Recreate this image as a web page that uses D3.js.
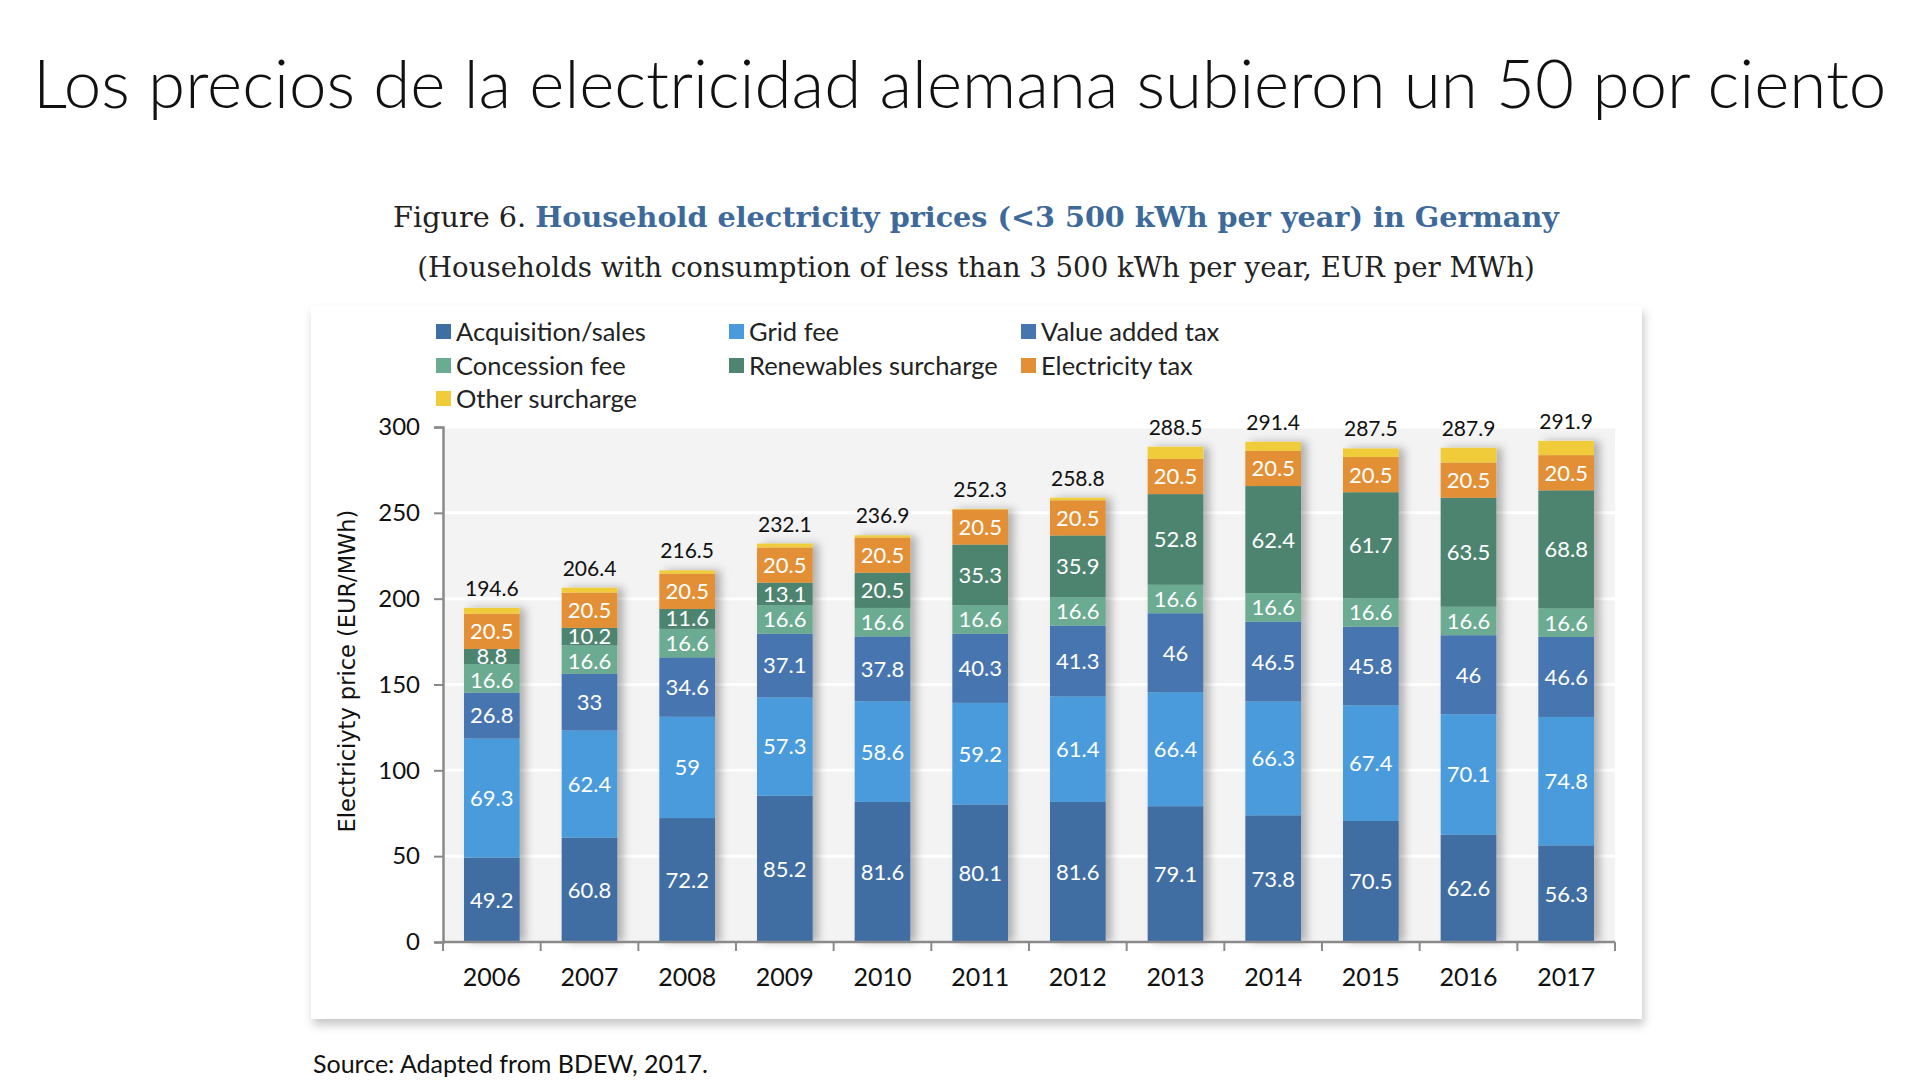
<!DOCTYPE html>
<html>
<head>
<meta charset="utf-8">
<title>Household electricity prices in Germany</title>
<script src="https://cdn.jsdelivr.net/npm/d3@7"></script>
<style>
  html, body { margin: 0; padding: 0; background: #fff; }
  svg { display: block; }
</style>
</head>
<body>
<svg id="chart" width="1920" height="1080"></svg>
<script>
// Data (EUR per MWh)
const years = ['2006', '2007', '2008', '2009', '2010', '2011', '2012', '2013', '2014', '2015', '2016', '2017'];
const seriesNames = ['Acquisition/sales', 'Grid fee', 'Value added tax', 'Concession fee',
                     'Renewables surcharge', 'Electricity tax', 'Other surcharge'];
const acquisition = [49.2, 60.8, 72.2, 85.2, 81.6, 80.1, 81.6, 79.1, 73.8, 70.5, 62.6, 56.3];
const gridFee     = [69.3, 62.4, 59, 57.3, 58.6, 59.2, 61.4, 66.4, 66.3, 67.4, 70.1, 74.8];
const vat         = [26.8, 33, 34.6, 37.1, 37.8, 40.3, 41.3, 46, 46.5, 45.8, 46, 46.6];
const concession  = [16.6, 16.6, 16.6, 16.6, 16.6, 16.6, 16.6, 16.6, 16.6, 16.6, 16.6, 16.6];
const renewables  = [8.8, 10.2, 11.6, 13.1, 20.5, 35.3, 35.9, 52.8, 62.4, 61.7, 63.5, 68.8];
const elecTax     = [20.5, 20.5, 20.5, 20.5, 20.5, 20.5, 20.5, 20.5, 20.5, 20.5, 20.5, 20.5];
const otherSurch  = [3.4, 2.9, 2.0, 2.3, 1.3, 0.3, 1.5, 7.1, 5.3, 5.0, 8.6, 8.3];
const totals      = [194.6, 206.4, 216.5, 232.1, 236.9, 252.3, 258.8, 288.5, 291.4, 287.5, 287.9, 291.9];
const yTicks = [0, 50, 100, 150, 200, 250, 300];

const colors = ['#3f6ea3', '#4a9bdc', '#4675b0', '#6aab92', '#4e8470', '#e38f35', '#f0cc3a'];
const labelled = [true, true, true, true, true, true, false];

const seriesValues = [acquisition, gridFee, vat, concession, renewables, elecTax, otherSurch];
const rows = years.map((y, i) => {
    const r = { year: y };
    seriesNames.forEach((s, k) => { r[s] = seriesValues[k][i]; });
    return r;
});

const svg = d3.select('#chart');
const sans = 'Lato, "Open Sans", sans-serif';
const serif = '"DejaVu Serif", "Liberation Serif", serif';

const defs = svg.append('defs');
const panelShadow = defs.append('filter').attr('id', 'panelShadow')
    .attr('x', '-5%').attr('y', '-5%').attr('width', '110%').attr('height', '115%');
panelShadow.append('feDropShadow')
    .attr('dx', 2).attr('dy', 6).attr('stdDeviation', 5)
    .attr('flood-color', '#000').attr('flood-opacity', 0.22);
const barShadow = defs.append('filter').attr('id', 'barShadow')
    .attr('x', '-20%').attr('y', '-5%').attr('width', '160%').attr('height', '110%');
barShadow.append('feDropShadow')
    .attr('dx', 6).attr('dy', 0).attr('stdDeviation', 4)
    .attr('flood-color', '#000').attr('flood-opacity', 0.28);

// fit a text element to a target width by scaling its font size
function fitWidth(sel, width) {
    const w = sel.node().getComputedTextLength();
    const fs = parseFloat(sel.attr('font-size'));
    sel.attr('font-size', fs * width / w);
}

// Slide title
const title = svg.append('text')
    .attr('x', 33).attr('y', 108)
    .attr('font-family', sans).attr('font-size', 66).attr('font-weight', 300)
    .attr('fill', '#111')
    .text('Los precios de la electricidad alemana subieron un 50 por ciento');
fitWidth(title, 1854);

// Figure heading
const fig = svg.append('text')
    .attr('x', 976).attr('y', 227).attr('text-anchor', 'middle')
    .attr('font-family', serif).attr('font-size', 32);
fig.append('tspan').attr('fill', '#222').text('Figure 6. ');
fig.append('tspan').attr('fill', '#3d6a9a').attr('font-weight', 'bold')
    .text('Household electricity prices (<3 500 kWh per year) in Germany');
fitWidth(fig, 1166);

const sub = svg.append('text')
    .attr('x', 976).attr('y', 277).attr('text-anchor', 'middle')
    .attr('font-family', serif).attr('font-size', 28).attr('fill', '#222')
    .text('(Households with consumption of less than 3 500 kWh per year, EUR per MWh)');
fitWidth(sub, 1118);

// White panel
svg.append('rect')
    .attr('x', 311).attr('y', 306).attr('width', 1331).attr('height', 713)
    .attr('fill', '#fff').attr('filter', 'url(#panelShadow)');

// Legend
const legendPos = [[436, 332], [729, 332], [1021, 332], [436, 366], [729, 366], [1021, 366], [436, 399]];
const legend = svg.append('g');
seriesNames.forEach((s, k) => {
    const [lx, ly] = legendPos[k];
    const g = legend.append('g').attr('transform', `translate(${lx},${ly})`);
    g.append('rect').attr('x', 0).attr('y', -8).attr('width', 15).attr('height', 15)
        .attr('fill', colors[k]);
    g.append('text').attr('x', 20).attr('y', 0).attr('dy', '0.35em')
        .attr('font-family', sans).attr('font-size', 25.5).attr('fill', '#222')
        .text(s);
});

// Scales
const x0 = 443, x1 = 1615;
const x = d3.scaleBand().domain(years).range([x0, x1]).paddingInner(0.43).paddingOuter(0.215);
const xBand = d3.scaleBand().domain(years).range([x0, x1]);
const y = d3.scaleLinear().domain([0, 300]).range([942, 427]);

// Plot background and gridlines
svg.append('rect')
    .attr('x', x0).attr('y', y(300)).attr('width', x1 - x0).attr('height', y(0) - y(300))
    .attr('fill', '#f3f3f3');
svg.append('g').selectAll('line').data(yTicks.filter(t => t > 0)).join('line')
    .attr('x1', x0).attr('x2', x1)
    .attr('y1', d => y(d)).attr('y2', d => y(d))
    .attr('stroke', '#fff').attr('stroke-width', 3);

// Stacked bars
const stack = d3.stack().keys(seriesNames)(rows);
const bars = svg.append('g');
const barGroups = bars.selectAll('g.bar').data(years).join('g')
    .attr('class', 'bar').attr('filter', 'url(#barShadow)');
barGroups.each(function (yr, i) {
    const g = d3.select(this);
    stack.forEach((layer, k) => {
        const d = layer[i];
        g.append('rect')
            .attr('x', x(yr)).attr('width', x.bandwidth())
            .attr('y', y(d[1])).attr('height', y(d[0]) - y(d[1]))
            .attr('fill', colors[k]);
    });
});

// Segment labels, centred in each segment; thin neighbours are pushed apart a little
const minGap = 25;
const labelData = [];
years.forEach((yr, i) => {
    const col = [];
    stack.forEach((layer, k) => {
        if (!labelled[k]) return;
        const d = layer[i];
        col.push({ x: x(yr) + x.bandwidth() / 2, y: y((d[0] + d[1]) / 2), text: String(seriesValues[k][i]) });
    });
    for (let j = 1; j < col.length; j++) {
        const gap = col[j - 1].y - col[j].y;
        if (gap < minGap) {
            const push = (minGap - gap) / 2;
            col[j - 1].y += push;
            col[j].y -= push;
        }
    }
    labelData.push(...col);
});
svg.append('g')
    .attr('font-family', sans).attr('font-size', 22).attr('fill', '#fff')
    .attr('text-anchor', 'middle')
    .selectAll('text').data(labelData).join('text')
    .attr('x', d => d.x).attr('y', d => d.y).attr('dy', '0.36em')
    .text(d => d.text);

// Totals above bars
svg.append('g').selectAll('text').data(totals).join('text')
    .attr('x', (d, i) => x(years[i]) + x.bandwidth() / 2)
    .attr('y', d => y(d) - 12)
    .attr('text-anchor', 'middle')
    .attr('font-family', sans).attr('font-size', 21).attr('fill', '#111')
    .text(d => d.toFixed(1));

// Y axis
const yAxis = svg.append('g').attr('transform', `translate(${x0},0)`)
    .call(d3.axisLeft(y).tickValues(yTicks).tickSize(9).tickPadding(14).tickFormat(d3.format('d')));
yAxis.select('.domain').attr('stroke', '#8a8a8a').attr('stroke-width', 2.5);
yAxis.selectAll('.tick line').attr('stroke', '#8a8a8a').attr('stroke-width', 2);
yAxis.selectAll('.tick text').attr('font-family', sans).attr('font-size', 24).attr('fill', '#111');

// X axis: ticks on band boundaries
const xAxisG = svg.append('g').attr('transform', `translate(0,${y(0)})`);
xAxisG.append('line').attr('x1', x0).attr('x2', x1)
    .attr('stroke', '#8a8a8a').attr('stroke-width', 2.5);
const boundaries = years.map(yr => xBand(yr)).concat([x1]);
xAxisG.selectAll('line.tk').data(boundaries).join('line').attr('class', 'tk')
    .attr('x1', d => d).attr('x2', d => d).attr('y1', 0).attr('y2', 9)
    .attr('stroke', '#8a8a8a').attr('stroke-width', 2);
xAxisG.selectAll('text').data(years).join('text')
    .attr('x', d => xBand(d) + xBand.bandwidth() / 2)
    .attr('y', 35).attr('dy', '0.35em').attr('text-anchor', 'middle')
    .attr('font-family', sans).attr('font-size', 25).attr('fill', '#111')
    .text(d => d);

// Y axis title
svg.append('text')
    .attr('transform', 'translate(347,671) rotate(-90)')
    .attr('text-anchor', 'middle').attr('dy', '0.35em')
    .attr('font-family', '"DejaVu Sans", sans-serif').attr('font-size', 22.5).attr('fill', '#111')
    .text('Electriciyty price (EUR/MWh)');

// Source
svg.append('text')
    .attr('x', 313).attr('y', 1073)
    .attr('font-family', sans).attr('font-size', 25).attr('fill', '#111')
    .text('Source: Adapted from BDEW, 2017.');
</script>
</body>
</html>
